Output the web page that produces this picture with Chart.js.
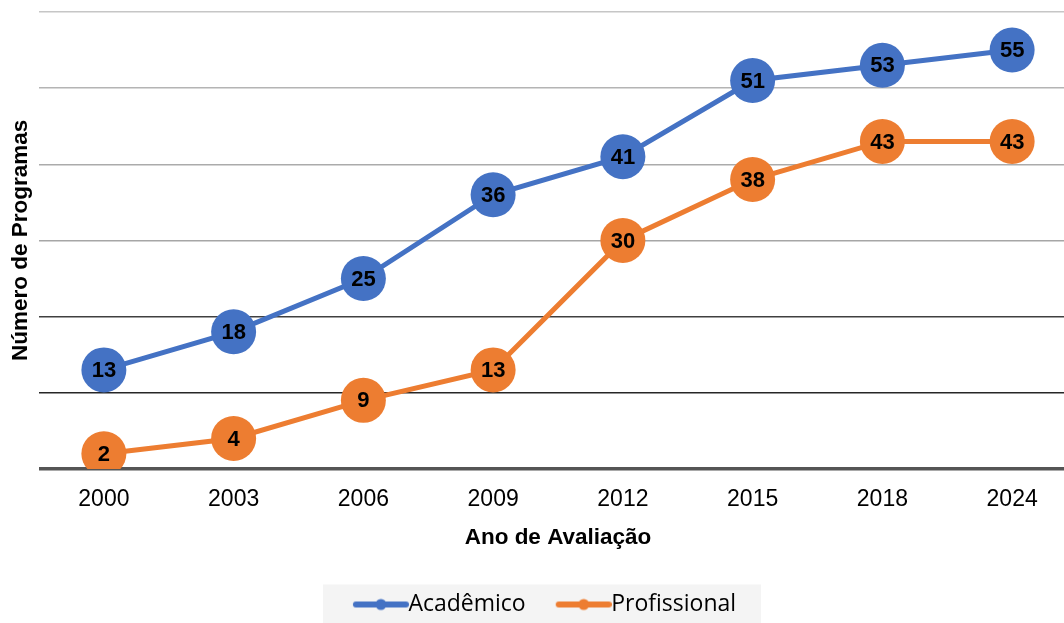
<!DOCTYPE html>
<html><head><meta charset="utf-8">
<script src="https://cdn.jsdelivr.net/npm/chart.js@4/dist/chart.umd.min.js"></script>
<style>html,body{margin:0;padding:0;overflow:hidden;background:#fff;width:1064px;height:623px}#wrap{position:relative;width:1064px;height:623px;overflow:hidden}#c{position:absolute;left:0;top:0}</style>
</head><body><div id="wrap"><canvas id="c" width="1077" height="626"></canvas></div>
<script>
const categories = ['2000','2003','2006','2009','2012','2015','2018','2024'];
const academico = [13,18,25,36,41,51,53,55];
const profissional = [2,4,9,13,30,38,43,43];
const seriesNames = ['Acadêmico','Profissional'];
const yMin = 0, yMax = 60, yStep = 10;
const BLUE = '#4472C4', ORANGE = '#ED7D31';
const gridColors = {0:'#555555',10:'#262626',20:'#404040',30:'#a6a6a6',40:'#ababab',50:'#b4b4b4',60:'#c6c6c6'};

function legendImg(color){
  const c = document.createElement('canvas'); c.width = 80; c.height = 14;
  const g = c.getContext('2d');
  g.strokeStyle = color; g.lineWidth = 6; g.lineCap = 'round';
  g.beginPath(); g.moveTo(27, 7); g.lineTo(77, 7); g.stroke();
  g.fillStyle = color; g.beginPath(); g.arc(52, 7, 5.5, 0, Math.PI*2); g.fill();
  return c;
}

const dataLabels = {
  id: 'dataLabels',
  afterDatasetsDraw(chart){
    const ctx = chart.ctx;
    ctx.save();
    ctx.font = 'bold 22px "Liberation Sans", Arial, sans-serif';
    ctx.fillStyle = '#000';
    ctx.textAlign = 'center'; ctx.textBaseline = 'middle';
    chart.data.datasets.forEach((ds, i) => {
      chart.getDatasetMeta(i).data.forEach((pt, j) => {
        ctx.fillText(String(ds.data[j]), pt.x, pt.y + 1);
      });
    });
    ctx.restore();
  }
};

const legendBg = {
  id: 'legendBg',
  beforeDraw(chart){
    const hb = chart.legend && chart.legend.legendHitBoxes;
    if (!hb || !hb.length) return;
    const first = hb[0], last = hb[hb.length-1];
    const x0 = first.left - 18, x1 = last.left + last.width + 25;
    const cy = first.top + first.height/2;
    const ctx = chart.ctx;
    ctx.save(); ctx.fillStyle = '#f4f4f4';
    ctx.fillRect(x0, cy - 20, x1 - x0, 60);
    ctx.restore();
  }
};

new Chart(document.getElementById('c'), {
  type: 'line',
  data: {
    labels: categories,
    datasets: [
      {label: seriesNames[0], data: academico, borderColor: BLUE, backgroundColor: BLUE, borderWidth: 5,
       pointRadius: 22.5, pointHoverRadius: 22.5, pointBackgroundColor: BLUE, pointBorderWidth: 0, tension: 0},
      {label: seriesNames[1], data: profissional, borderColor: ORANGE, backgroundColor: ORANGE, borderWidth: 5,
       pointRadius: 22.5, pointHoverRadius: 22.5, pointBackgroundColor: ORANGE, pointBorderWidth: 0, tension: 0}
    ]
  },
  options: {
    responsive: false, animation: false, devicePixelRatio: 1,
    layout: {autoPadding: false, padding: {top: 12, left: 0, right: 0, bottom: 0}},
    plugins: {
      tooltip: {enabled: false},
      legend: {
        position: 'bottom',
        labels: {
          usePointStyle: true, pointStyleWidth: 56, padding: 18,
          font: {family: '"Open Sans", sans-serif', size: 23}, color: '#000',
          generateLabels(chart){
            return chart.data.datasets.map((ds, i) => ({
              text: ds.label, pointStyle: legendImg(ds.borderColor), fillStyle: ds.borderColor,
              strokeStyle: ds.borderColor, lineWidth: 0, hidden: false, datasetIndex: i, fontColor: '#000'
            }));
          }
        }
      }
    },
    scales: {
      x: {
        offset: true,
        grid: {display: false, drawTicks: false},
        border: {display: false},
        ticks: {color: '#000', padding: 16.5, maxRotation: 0, font: {family: '"Liberation Sans", Arial, sans-serif', size: 23}},
        title: {display: true, text: 'Ano de Avaliação', color: '#000', padding: {top: -5, bottom: 23.5},
                font: {family: '"Liberation Sans", Arial, sans-serif', size: 22.5, weight: 'bold'}}
      },
      y: {
        min: yMin, max: yMax,
        ticks: {display: false, stepSize: yStep},
        grid: {drawTicks: false, color: c => gridColors[c.tick.value] || '#bbb',
               lineWidth: c => c.tick.value === 0 ? 3.5 : 1.5},
        border: {display: false},
        title: {display: true, text: 'Número de Programas', color: '#000', padding: {top: 7.5, bottom: 4.5},
                font: {family: '"Liberation Sans", Arial, sans-serif', size: 22.5, weight: 'bold'}}
      }
    }
  },
  plugins: [legendBg, dataLabels]
});
</script></body></html>
